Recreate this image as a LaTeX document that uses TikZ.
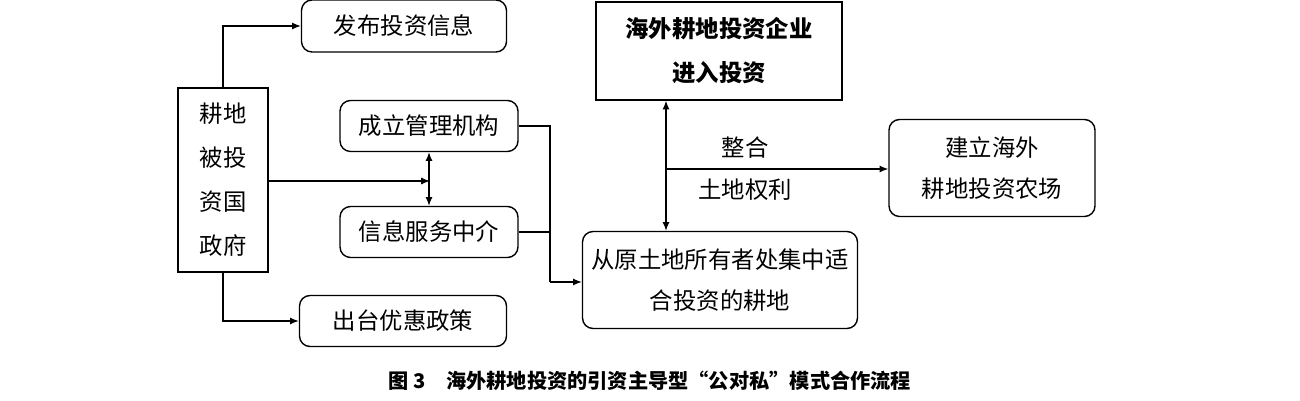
\documentclass[tikz,border=0pt]{standalone}
\usepackage{fontspec}
\setmainfont{Noto Sans CJK SC}
\usetikzlibrary{arrows.meta}
\begin{document}
\begin{tikzpicture}[x=0.02cm,y=-0.02cm,
  bx/.style={draw,line width=0.8pt,rounded corners=6pt,align=center,font=\fontsize{13.3}{23}\selectfont},
  sq/.style={draw,line width=0.8pt,align=center,font=\fontsize{13.3}{23}\selectfont},
  ar/.style={-{Latex[length=5pt,width=4pt]},line width=0.7pt},
  lb/.style={font=\fontsize{13.3}{15}\selectfont}]
\useasboundingbox (0,0) rectangle (1300,401);
\node[bx,minimum width=205*0.02cm,minimum height=52*0.02cm] (fb) at (404,26) {发布投资信息};
\node[sq,minimum width=90*0.02cm,minimum height=184*0.02cm,font=\fontsize{13.3}{25}\selectfont] (gov) at (223,180) {耕地\\被投\\资国\\政府};
\node[bx,minimum width=178*0.02cm,minimum height=51*0.02cm] (gl) at (429,126) {成立管理机构};
\node[bx,minimum width=178*0.02cm,minimum height=51*0.02cm] (xx) at (429,232) {信息服务中介};
\node[bx,minimum width=207*0.02cm,minimum height=51*0.02cm] (ct) at (403,321) {出台优惠政策};
\node[sq,minimum width=246*0.02cm,minimum height=98*0.02cm,font=\bfseries\fontsize{13.3}{25}\selectfont] (qy) at (719,51) {海外耕地投资企业\\进入投资};
\node[bx,minimum width=206*0.02cm,minimum height=97*0.02cm] (nc) at (992,168) {建立海外\\耕地投资农场};
\node[bx,minimum width=275*0.02cm,minimum height=97*0.02cm] (jz) at (720,280) {从原土地所有者处集中适\\合投资的耕地};
\coordinate (c1) at (430,181);
\draw[ar] (gov.north) |- (fb.west);
\draw[ar] (gov.south) |- (ct.west);
\draw[ar] (gov.east|-c1) -- (c1);
\draw[{Latex[length=5pt,width=4pt]}-{Latex[length=5pt,width=4pt]},line width=0.7pt] (gl.south) -- (xx.north);
\coordinate (m) at (550,282);
\draw[line width=0.7pt] (gl.east) -| (m);
\draw[line width=0.7pt] (xx.east) -| (m);
\draw[ar] (m) -- (jz.west|-m);
\draw[{Latex[length=5pt,width=4pt]}-{Latex[length=5pt,width=4pt]},line width=0.7pt] (qy.south-|666,0) -- (jz.north-|666,0);
\coordinate (h) at (666,169);
\draw[ar] (h) -- (nc.west|-h);
\node[lb] (t1) at (745,148) {整合};
\node[lb] (t2) at (745,190) {土地权利};
\node[font=\bfseries\fontsize{11.5}{13}\selectfont] (cap) at (650,381) {图 3\quad 海外耕地投资的引资主导型“公对私”模式合作流程};
\end{tikzpicture}
\end{document}
